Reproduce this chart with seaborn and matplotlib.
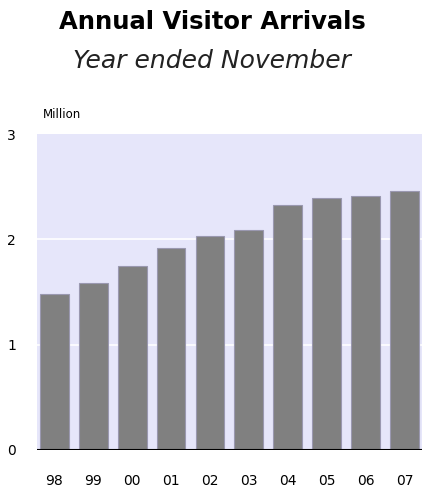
import matplotlib
matplotlib.use('Agg')
import matplotlib.pyplot as plt
import seaborn as sns
import pandas as pd

# Annual visitor arrivals, year ended November (millions)
years = ['98', '99', '00', '01', '02', '03', '04', '05', '06', '07']
arrivals = [1.48, 1.59, 1.745, 1.92, 2.03, 2.09, 2.33, 2.39, 2.41, 2.465]
y_ticks = [0, 1, 2, 3]

df = pd.DataFrame({'year': years, 'arrivals': arrivals})

sns.set_style('white')
plt.rcParams['font.family'] = ['DejaVu Sans']
plt.rcParams['text.color'] = 'black'
plt.rcParams['xtick.color'] = 'black'
plt.rcParams['ytick.color'] = 'black'

fig = plt.figure(figsize=(4.24, 4.88), dpi=100)
ax = fig.add_axes([0.087, 0.078, 0.908, 0.647])
ax.set_facecolor('#e6e6fa')

sns.barplot(data=df, x='year', y='arrivals', color='#808080', saturation=1,
            width=0.74, edgecolor='#9a98b0', linewidth=0.8, ax=ax, zorder=3)

# white gridlines at whole millions
for v in y_ticks[1:-1]:
    ax.axhline(v, color='white', linewidth=1.2, zorder=1)
ax.axhline(0, color='black', linewidth=1.5, zorder=4)

ax.set_ylim(0, 3)
ax.set_xlim(-0.45, len(years) - 0.55)
ax.set_yticks(y_ticks)
ax.set_yticklabels([str(t) for t in y_ticks])
ax.tick_params(axis='y', length=0, pad=15, labelsize=10)
ax.tick_params(axis='x', length=0, pad=17, labelsize=10)
ax.set_xlabel('')
ax.set_ylabel('')
for s in ax.spines.values():
    s.set_visible(False)

fig.text(0.5, 0.955, 'Annual Visitor Arrivals', ha='center', va='center',
         fontsize=17.5, fontweight='bold')
fig.text(0.5, 0.875, 'Year ended November', ha='center', va='center',
         fontsize=18, fontstyle='italic', color='#222222')
fig.text(0.1, 0.765, 'Million', ha='left', va='center', fontsize=8.5)

fig.savefig('out.png', dpi=100)
